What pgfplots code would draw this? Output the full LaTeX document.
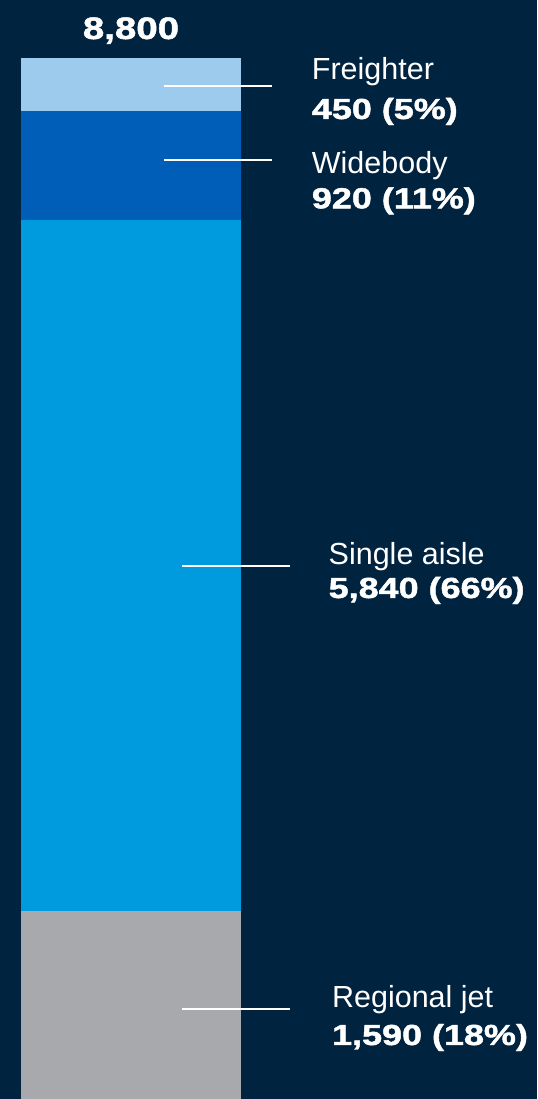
\documentclass[border=0pt]{standalone}
\usepackage{pgfplots}
\pgfplotsset{compat=1.18}
\usepackage{fontspec}
\setmainfont{Liberation Sans}
\newfontfamily\heavy[FakeStretch=1.24,FakeBold=1.6]{Liberation Sans Bold}
\definecolor{bgnavy}{HTML}{002340}
\definecolor{cfreight}{HTML}{9DCBEE}
\definecolor{cwide}{HTML}{005EB8}
\definecolor{csingle}{HTML}{009ADE}
\definecolor{cregional}{HTML}{A7A9AC}
\pgfdeclarelayer{bg}
\pgfdeclarelayer{fg}
\pgfsetlayers{bg,main,fg}
\begin{document}
\begin{tikzpicture}
\begin{axis}[
  scale only axis,
  width=268.5pt, height=549.5pt,
  xmin=0, xmax=537, ymin=0, ymax=9290.3,
  hide axis,
  ybar stacked, bar width=220,
  clip=false,
]
\addplot[fill=cregional, draw=none] coordinates {(131,1590)};
\addplot[fill=csingle, draw=none] coordinates {(131,5840)};
\addplot[fill=cwide, draw=none] coordinates {(131,920)};
\addplot[fill=cfreight, draw=none] coordinates {(131,450)};

\node[anchor=base, text=white, font=\heavy\fontsize{15.5pt}{18pt}\selectfont, inner sep=0pt] at (axis cs:131,8960.6) {8,800};

\coordinate (f1) at (axis cs:164,8563.5); \coordinate (f2) at (axis cs:272,8563.5);
\coordinate (w1) at (axis cs:164,7937.8); \coordinate (w2) at (axis cs:272,7937.8);
\coordinate (s1) at (axis cs:182,4505.7); \coordinate (s2) at (axis cs:290,4505.7);
\coordinate (r1) at (axis cs:182,760.8);  \coordinate (r2) at (axis cs:290,760.8);

\node[anchor=base west, text=white, inner sep=0pt, font=\fontsize{15.25pt}{18pt}\selectfont] at (axis cs:311.5,8619.6) {Freighter};
\node[anchor=base west, text=white, inner sep=0pt, font=\heavy\fontsize{14.5pt}{18pt}\selectfont] at (axis cs:311.5,8284.4) {450 (5\%)};
\node[anchor=base west, text=white, inner sep=0pt, font=\fontsize{15.25pt}{18pt}\selectfont] at (axis cs:311.5,7824.9) {Widebody};
\node[anchor=base west, text=white, inner sep=0pt, font=\heavy\fontsize{14.5pt}{18pt}\selectfont] at (axis cs:311.5,7529.2) {920 (11\%)};
\node[anchor=base west, text=white, inner sep=0pt, font=\fontsize{15.25pt}{18pt}\selectfont] at (axis cs:328.3,4514.1) {Single aisle};
\node[anchor=base west, text=white, inner sep=0pt, font=\heavy\fontsize{14.5pt}{18pt}\selectfont] at (axis cs:328.3,4235.2) {5,840 (66\%)};
\node[anchor=base west, text=white, inner sep=0pt, font=\fontsize{15.25pt}{18pt}\selectfont] at (axis cs:331.7,777.7) {Regional jet};
\node[anchor=base west, text=white, inner sep=0pt, font=\heavy\fontsize{14.5pt}{18pt}\selectfont] at (axis cs:331.7,456.5) {1,590 (18\%)};
\end{axis}
\begin{pgfonlayer}{bg}
\fill[bgnavy] (current axis.south west) rectangle (current axis.north east);
\end{pgfonlayer}
\begin{pgfonlayer}{fg}
\draw[white, line width=1.25pt] (f1) -- (f2) (w1) -- (w2) (s1) -- (s2) (r1) -- (r2);
\end{pgfonlayer}
\end{tikzpicture}
\end{document}
